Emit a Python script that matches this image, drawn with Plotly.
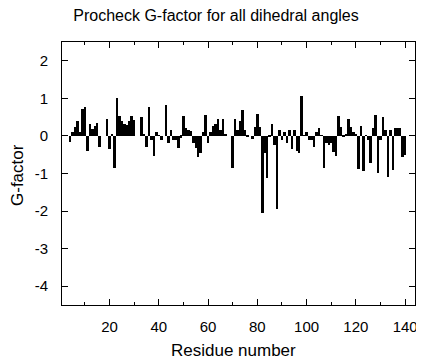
import plotly.graph_objects as go

residues = list(range(1, 141))
gfactor = [
    0, 0, 0, -0.16, 0.1, 0.24, 0.41, 0.1, 0.73, 0.76,
    -0.39, 0.32, 0.19, 0.26, 0.35, -0.29, 0, 0, 0.44, -0.36,
    0.05, -0.86, 1.0, 0.52, 0.41, 0.32, 0.28, 0.41, 0.52, 0.43,
    0, 0, 0.5, 0.06, -0.3, 0.78, -0.12, -0.53, 0.1, 0.02,
    -0.1, 0, 0.83, -0.2, 0.15, -0.1, -0.1, -0.33, -0.05, 0.52,
    0.22, 0.15, 0.12, -0.2, -0.33, -0.55, -0.45, 0.1, 0.55, -0.2,
    0.1, 0.26, 0.32, 0.45, 0.15, 0.44, 0.06, 0, 0, -0.86,
    0.46, 0.15, 0.41, 0.69, 0.15, -0.04, 0, -0.07, 0.25, 0.59,
    0.25, -2.04, -0.46, -1.12, -0.04, 0.32, -0.25, -1.94, 0.15, -0.1,
    0.1, -0.2, 0.15, -0.35, 0.15, -0.4, -0.45, 1.05, 0.02, 0.1,
    -0.1, -0.1, -0.3, 0.1, 0.22, 0.02, -0.86, -0.2, -0.25, -0.2,
    -0.42, -0.53, 0.52, 0.24, -0.03, 0.06, 0.45, 0.25, 0.1, 0.04,
    -0.88, 0.27, -0.93, 0.02, -0.1, -0.71, 0.2, 0.55, -0.99, -0.1,
    0.5, 0.15, -1.08, 0.15, -0.92, 0.2, 0.22, 0.21, -0.55, -0.5,
]

y_tickvals = [2, 1, 0, -1, -2, -3, -4]
y_ticktext = ["2", "1", "0", "-1", "-2", "-3", "-4"]
x_tickvals = [20, 40, 60, 80, 100, 120, 140]
x_ticktext = ["20", "40", "60", "80", "100", "120", "140"]

font_family = "Liberation Sans, Arial, sans-serif"

# The page body has an 8px default margin, so the figure is drawn 8px right/down.
OFF = 8
W, H = 424 - OFF, 360 - OFF
# Target plot area in window pixels
PX0, PX1, PY0, PY1 = 62, 415, 42, 305

fig = go.Figure(
    go.Bar(
        x=residues,
        y=gfactor,
        marker=dict(color="black", line=dict(width=0)),
        width=1.0,
    )
)

pw, ph = PX1 - PX0, PY1 - PY0

fig.update_layout(
    width=W,
    height=H,
    margin=dict(l=PX0 - OFF, r=W - (PX1 - OFF), t=PY0 - OFF, b=H - (PY1 - OFF), autoexpand=False),
    paper_bgcolor="white",
    plot_bgcolor="white",
    showlegend=False,
    bargap=0,
    title=dict(
        text="Procheck G-factor for all dihedral angles",
        x=0.5,
        xanchor="center",
        y=1 - (15 - OFF) / H,
        yanchor="middle",
        font=dict(family=font_family, size=16, color="black"),
    ),
    font=dict(family=font_family, size=15, color="black"),
    annotations=[
        dict(
            text="Residue number", xref="paper", yref="paper",
            x=(233 - PX0) / pw, y=(PY1 - 350) / ph,
            xanchor="center", yanchor="middle", showarrow=False,
            font=dict(family=font_family, size=17, color="black"),
        ),
        dict(
            text="G-factor", xref="paper", yref="paper",
            x=(17 - PX0) / pw, y=(PY1 - 175) / ph,
            xanchor="center", yanchor="middle", showarrow=False, textangle=-90,
            font=dict(family=font_family, size=17, color="black"),
        ),
    ],
)

fig.update_xaxes(
    range=[0.7, 144],
    tickvals=x_tickvals,
    ticktext=x_ticktext,
    ticks="inside",
    ticklen=6,
    tickcolor="black",
    showline=True,
    linecolor="black",
    linewidth=1,
    mirror="allticks",
    showgrid=False,
    zeroline=False,
    automargin=False,
    ticklabelstandoff=8,
    minor=dict(tickvals=[10, 30, 50, 70, 90, 110, 130], ticks="inside", ticklen=3, tickcolor="black"),
    tickfont=dict(size=15),
)

fig.update_yaxes(
    range=[-4.5, 2.5],
    tickvals=y_tickvals,
    ticktext=y_ticktext,
    ticks="inside",
    ticklen=6,
    tickcolor="black",
    showline=True,
    linecolor="black",
    linewidth=1,
    mirror="allticks",
    showgrid=False,
    zeroline=False,
    automargin=False,
    ticklabelstandoff=10,
    tickfont=dict(size=15),
)

fig.write_html("out.html")
